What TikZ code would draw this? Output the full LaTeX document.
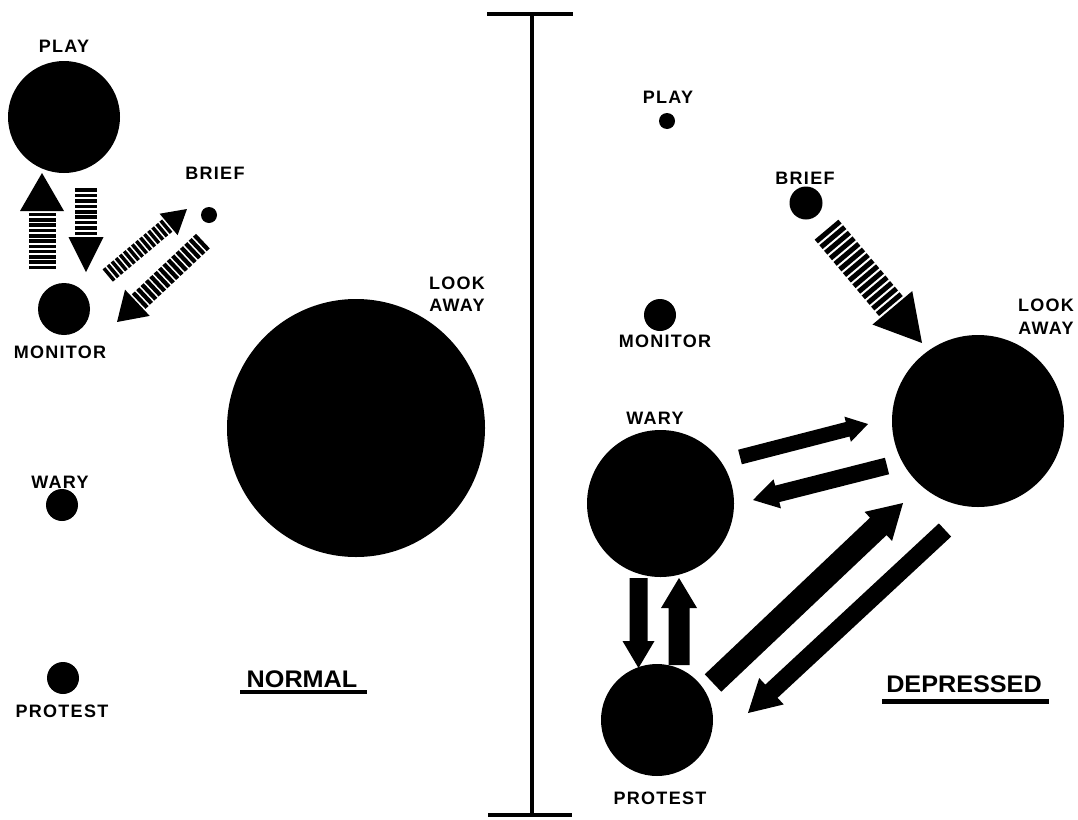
\documentclass[tikz,border=0pt]{standalone}
\usepackage{fontspec}
\setmainfont{Liberation Sans}
\newfontfamily\labfont[LetterSpace=7]{Liberation Sans}
\usetikzlibrary{calc}

\newcommand\arrowsetup[2]{%
  \pgfpointdiff{\pgfpointanchor{#1}{center}}{\pgfpointanchor{#2}{center}}%
  \pgfgetlastxy{\arrdx}{\arrdy}%
  \pgfmathsetmacro\arrang{atan2(\arrdy,\arrdx)}%
  \pgfmathsetmacro\arrlen{veclen(\arrdx,\arrdy)}%
}
% from, to, shaft half width, head half width, head length
\newcommand\solidarrow[5]{%
  \arrowsetup{#1}{#2}%
  \pgfmathsetmacro\arrb{\arrlen-#5}%
  \fill[shift={(#1)}, rotate=\arrang]
    (0pt,-#3pt) -- (\arrb pt,-#3pt) -- (\arrb pt,-#4pt) -- (\arrlen pt,0pt)
    -- (\arrb pt,#4pt) -- (\arrb pt,#3pt) -- (0pt,#3pt) -- cycle;
}
% from, to, shaft half width, head half width, head length, stripe, period
\newcommand\stripedarrow[7]{%
  \arrowsetup{#1}{#2}%
  \pgfmathsetmacro\arrb{\arrlen-#5}%
  \pgfmathtruncatemacro\arrn{(\arrlen-#5)/#7}%
  \begin{scope}[shift={(#1)}, rotate=\arrang]
    \fill (\arrlen pt,0pt) -- (\arrb pt,#4pt) -- (\arrb pt,-#4pt) -- cycle;
    \foreach \k in {1,...,\arrn} {
      \pgfmathsetmacro\sa{\arrb-\k*#7}
      \pgfmathsetmacro\sb{\sa+#6}
      \fill (\sa pt,-#3pt) -- (\sb pt,-#3pt) -- (\sb pt,#3pt) -- (\sa pt,#3pt) -- cycle;
    }
  \end{scope}
}

\begin{document}
\begin{tikzpicture}[x=1pt,y=-1pt,
  dot/.style={circle, fill=black, draw=none, inner sep=0pt},
  lab/.style={font=\labfont\bfseries\fontsize{18}{22.5}\selectfont, inner sep=0pt, align=center},
  titletext/.style={font=\bfseries\fontsize{24}{24}\selectfont, inner sep=0pt, xscale=1.05},
  rule/.style={line width=4pt}]
\fill[white] (0,0) rectangle (1078,819);
\useasboundingbox (0,0) rectangle (1078,819);

% divider
\draw[rule] (532,14) -- (532,815);
\draw[rule] (487,14) -- (573,14);
\draw[rule] (488,815) -- (572,815);

% ---------- NORMAL ----------
\node[dot, minimum size=112pt] (lplay) at (64,117) {};
\node[dot, minimum size=52pt] (lmon) at (64,309) {};
\node[dot, minimum size=16pt] (lbrief) at (209,215) {};
\node[dot, minimum size=258pt] (llook) at (356,428) {};
\node[dot, minimum size=32pt] (lwary) at (62,505) {};
\node[dot, minimum size=32pt] (lprot) at (63,678) {};

\node[lab] (tlplay) at (64,46) {PLAY};
\node[lab] (tlmon) at (60,352) {MONITOR};
\node[lab] (tlbrief) at (215,173) {BRIEF};
\node[lab] (tllook) at (457,294) {LOOK\\AWAY};
\node[lab] (tlwary) at (60,482) {WARY};
\node[lab] (tlprot) at (62,711) {PROTEST};
\node[titletext] (normal) at (302,679) {NORMAL};
\draw[rule] (240,692) -- (367,692);

\coordinate (a1s) at (42,273);  \coordinate (a1e) at (42,173);
\coordinate (a2s) at (86,187);  \coordinate (a2e) at (86,272);
\coordinate (a3s) at (106,277); \coordinate (a3e) at (187,209);
\coordinate (a4s) at (203,241); \coordinate (a4e) at (117,322);
\stripedarrow{a1s}{a1e}{13.5}{22}{38}{3.6}{5.3}
\stripedarrow{a2s}{a2e}{11}{17.5}{35}{3.6}{5.4}
\stripedarrow{a3s}{a3e}{8}{14}{24}{3.5}{5.3}
\stripedarrow{a4s}{a4e}{10}{18}{28}{4.2}{6}

% ---------- DEPRESSED ----------
\node[dot, minimum size=16pt] (rplay) at (667,121) {};
\node[dot, minimum size=33pt] (rbrief) at (806,203) {};
\node[dot, minimum size=32pt] (rmon) at (660,315) {};
\node[dot, minimum size=172pt] (rlook) at (978,421) {};
\node[dot, minimum size=147pt] (rwary) at (660.5,503.5) {};
\node[dot, minimum size=112pt] (rprot) at (657,720) {};

\node[lab] (trplay) at (668,97) {PLAY};
\node[lab] (trbrief) at (805,178) {BRIEF};
\node[lab] (trmon) at (665,341) {MONITOR};
\node[lab] (trlook) at (1046,316.5) {LOOK\\AWAY};
\node[lab] (trwary) at (655,418) {WARY};
\node[lab] (trprot) at (660,798) {PROTEST};
\node[titletext] (depressed) at (964,684) {DEPRESSED};
\draw[line width=5pt] (882,701.5) -- (1049,701.5);

\coordinate (a5s) at (826,229); \coordinate (a5e) at (922,343);
\stripedarrow{a5s}{a5e}{15.5}{26}{46}{5}{7.3}

\coordinate (s1s) at (740,457);   \coordinate (s1e) at (868,424);
\coordinate (s2s) at (887,466);   \coordinate (s2e) at (753,500);
\coordinate (s3s) at (638.5,578); \coordinate (s3e) at (638.5,668);
\coordinate (s4s) at (679,665);   \coordinate (s4e) at (679,578);
\coordinate (s5s) at (713,683);   \coordinate (s5e) at (903,503);
\coordinate (s6s) at (945,530);   \coordinate (s6e) at (748,713);
\solidarrow{s1s}{s1e}{7.5}{13}{21}
\solidarrow{s2s}{s2e}{8.5}{15}{25}
\solidarrow{s3s}{s3e}{9}{16}{27}
\solidarrow{s4s}{s4e}{10.5}{18}{30}
\solidarrow{s5s}{s5e}{12}{20}{34}
\solidarrow{s6s}{s6e}{9}{18}{32}
\end{tikzpicture}
\end{document}
